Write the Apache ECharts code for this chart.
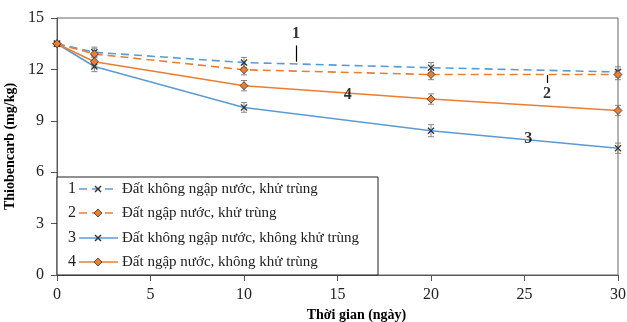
<!DOCTYPE html>
<html><head><meta charset="utf-8">
<script src="https://cdn.jsdelivr.net/npm/echarts@6/dist/echarts.min.js"></script>
<style>html,body{margin:0;padding:0;background:#fff}#c{width:627px;height:322px}</style>
</head><body><div id="c"></div>
<script>
const days = [0, 2, 10, 20, 30];
const s1 = [13.5, 13.0, 12.4, 12.1, 11.85];
const s2 = [13.5, 12.9, 11.98, 11.7, 11.7];
const s3 = [13.5, 12.17, 9.78, 8.42, 7.4];
const s4 = [13.5, 12.45, 11.05, 10.27, 9.6];
const e1 = [0.12, 0.3, 0.3, 0.3, 0.3];
const e2 = [0.12, 0.3, 0.3, 0.3, 0.3];
const e3 = [0.12, 0.3, 0.28, 0.35, 0.3];
const e4 = [0.12, 0.3, 0.3, 0.3, 0.3];
const names = ['Đất không ngập nước, khử trùng','Đất ngập nước, khử trùng','Đất không ngập nước, không khử trùng','Đất ngập nước, không khử trùng'];
const yTicks = [0, 3, 6, 9, 12, 15];
const xTicks = [0, 5, 10, 15, 20, 25, 30];
const annotations = [
  {text:'1', x:12.78, y:14.1, line:[13.4, 12.45]},
  {text:'2', x:26.2, y:10.6, line:[11.68, 11.2]},
  {text:'3', x:25.2, y:7.95},
  {text:'4', x:15.55, y:10.5}
];

const BLUE = '#5B9BD5', ORANGE = '#ED7D31';
const crossPath = 'path://M0,1.3L1.3,0L5,3.7L8.7,0L10,1.3L6.3,5L10,8.7L8.7,10L5,6.3L1.3,10L0,8.7L3.7,5Z';
const FONT = '"Liberation Serif","DejaVu Serif",serif';
const DASH = [8,5];

function lineSeries(name, vals, color, dashed, cross){
  return {
    name, type:'line', data: days.map((d,i)=>[d, vals[i]]), z:5,
    lineStyle:{color, width:1.6, type: dashed ? DASH : 'solid'},
    symbol: cross ? crossPath : 'diamond',
    symbolSize: cross ? 7 : 8,
    itemStyle: cross ? {color:'#333'} : {color:ORANGE, borderColor:'#333', borderWidth:0.8},
    showSymbol:true, animation:false
  };
}
function errSeries(vals, errs){
  return {
    type:'custom', z:4, animation:false, silent:true,
    data: days.map((d,i)=>[d, vals[i]-errs[i], vals[i]+errs[i]]),
    renderItem(params, api){
      const lo = api.coord([api.value(0), api.value(1)]);
      const hi = api.coord([api.value(0), api.value(2)]);
      const w = 3;
      const st = {stroke:'#888', lineWidth:1};
      return {type:'group', children:[
        {type:'line', shape:{x1:lo[0], y1:lo[1], x2:hi[0], y2:hi[1]}, style:st},
        {type:'line', shape:{x1:lo[0]-w, y1:lo[1], x2:lo[0]+w, y2:lo[1]}, style:st},
        {type:'line', shape:{x1:hi[0]-w, y1:hi[1], x2:hi[0]+w, y2:hi[1]}, style:st}
      ]};
    }
  };
}

const chart = echarts.init(document.getElementById('c'));
const option = {
  animation:false,
  grid:{show:true, borderColor:'#666', borderWidth:1, left:57, right:9, top:18, bottom:47, containLabel:false, outerBoundsMode:'none'},
  xAxis:{type:'value', min:0, max:30, interval:5,
    name:'Thời gian (ngày)', nameLocation:'middle', nameGap:30,
    nameTextStyle:{fontFamily:FONT, fontWeight:'bold', fontSize:14, color:'#000', padding:[0,0,0,38]},
    axisLine:{lineStyle:{color:'#555'}}, axisTick:{show:true, length:6, lineStyle:{color:'#555'}},
    splitLine:{show:false},
    axisLabel:{fontFamily:FONT, fontSize:16, color:'#222', margin:12}},
  yAxis:{type:'value', min:0, max:15, interval:3,
    name:'Thiobencarb (mg/kg)', nameLocation:'middle', nameGap:38, nameRotate:90,
    nameTextStyle:{fontFamily:FONT, fontWeight:'bold', fontSize:14, color:'#000'},
    axisLine:{show:true, lineStyle:{color:'#555'}}, axisTick:{show:true, length:6, lineStyle:{color:'#555'}},
    splitLine:{show:false},
    axisLabel:{fontFamily:FONT, fontSize:16, color:'#222', margin:13}},
  series:[
    errSeries(s1,e1), errSeries(s2,e2), errSeries(s3,e3), errSeries(s4,e4),
    lineSeries(names[0], s1, BLUE, true, true),
    lineSeries(names[1], s2, ORANGE, true, false),
    lineSeries(names[2], s3, BLUE, false, true),
    lineSeries(names[3], s4, ORANGE, false, false),
    {type:'scatter', symbolSize:0, silent:true, z:6,
      data: annotations.map(a=>({value:[a.x, a.y], label:{show:true, formatter:a.text}})),
      label:{position:'inside', fontFamily:FONT, fontWeight:'bold', fontSize:16, color:'#000'}},
    {type:'line', data:[], silent:true,
      markLine:{silent:true, symbol:'none', animation:false, label:{show:false},
        lineStyle:{color:'#000', width:1.2, type:'solid'},
        data: annotations.filter(a=>a.line).map(a=>[{coord:[a.x, a.line[0]]},{coord:[a.x, a.line[1]]}])}}
  ]
};
chart.setOption(option);

// Legend box drawn as graphics
const lx = 57, ly = 177, lw = 321, lh = 98;
const rows = [189, 213, 238, 262];
const children = [{type:'rect', shape:{x:lx, y:ly, width:lw, height:lh}, style:{fill:'#fff', stroke:'#222', lineWidth:1}, z:10}];
const styles = [[BLUE,true,true],[ORANGE,true,false],[BLUE,false,true],[ORANGE,false,false]];
rows.forEach((y,i)=>{
  const [col, dashed, cross] = styles[i];
  children.push({type:'text', x:72, y:y, style:{text:String(i+1), font:'16px '+FONT, fill:'#222', align:'center', verticalAlign:'middle'}, z:11});
  children.push({type:'line', shape:{x1:79, y1:y, x2:118, y2:y}, style:{stroke:col, lineWidth:1.6, lineDash: dashed ? DASH : null}, z:11});
  if (cross) {
    children.push({type:'line', shape:{x1:95, y1:y-3, x2:101, y2:y+3}, style:{stroke:'#333', lineWidth:1.4}, z:12});
    children.push({type:'line', shape:{x1:95, y1:y+3, x2:101, y2:y-3}, style:{stroke:'#333', lineWidth:1.4}, z:12});
  } else {
    children.push({type:'polygon', shape:{points:[[98,y-4],[102,y],[98,y+4],[94,y]]}, style:{fill:ORANGE, stroke:'#333', lineWidth:0.8}, z:12});
  }
  children.push({type:'text', x:122, y:y, style:{text:names[i], font:'15px '+FONT, fill:'#222', verticalAlign:'middle'}, z:11});
});
chart.setOption({graphic:{elements:children}});
</script></body></html>
